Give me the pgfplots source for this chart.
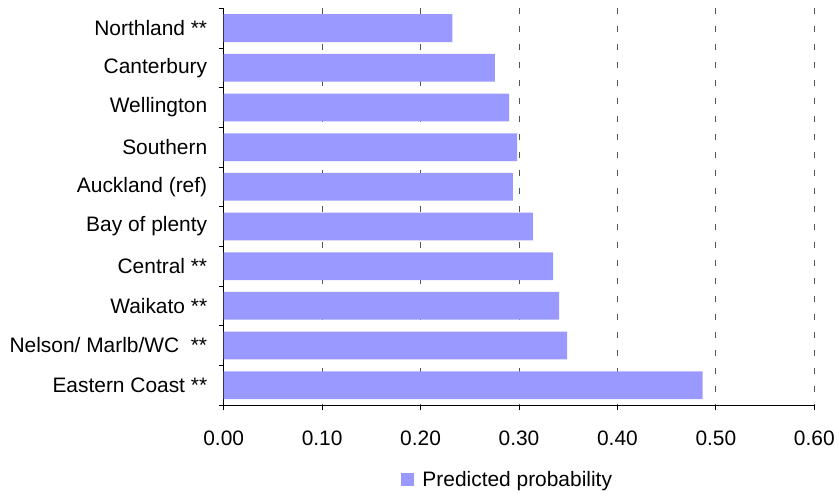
\documentclass[border=0pt]{standalone}
\usepackage{pgfplots}
\pgfplotsset{compat=1.18}
\usepackage{fontspec}
\setmainfont{Liberation Sans}
\definecolor{barcol}{HTML}{9999FF}
\definecolor{gridcol}{HTML}{555555}
\begin{document}
\begin{tikzpicture}[x=1bp,y=1bp]
\useasboundingbox (-223.7bp,-88bp) rectangle (615.3bp,405bp);
\begin{axis}[
  at={(0,0)}, anchor=south west,
  width=590.6bp, height=396.7bp, scale only axis=true,
  xbar, bar width=0.7,
  xmin=0, xmax=0.6,
  ymin=-0.5, ymax=9.5, y dir=reverse,
  axis x line*=bottom, axis y line*=left,
  axis line style={black, line width=0.8bp},
  xtick={0,0.1,...,0.61},
  xticklabel style={/pgf/number format/fixed, /pgf/number format/fixed zerofill, /pgf/number format/precision=2, yshift=-17bp},
  /pgf/number format/assume math mode=true,
  ytick={0,...,9},
  yticklabels={Northland **, Canterbury, Wellington, Southern, Auckland (ref), Bay of plenty, Central **, Waikato **, {Nelson/ Marlb/WC \ **}, Eastern Coast **},
  minor ytick={-0.5,0.5,...,9.6},
  major y tick style={draw=none},
  minor y tick style={black, line width=0.8bp},
  x tick style={black, line width=0.8bp},
  tick align=outside,
  major tick length=5bp, minor tick length=5bp,
  yticklabel style={xshift=-8bp},
  xmajorgrids=true,
  grid style={gridcol, line width=0.9bp, dash pattern=on 6bp off 12bp},
  axis on top=false,
  tick label style={font=\fontsize{21}{25}\selectfont},
  legend style={draw=none, at={(0.301,-0.189)}, anchor=west, inner sep=0pt, outer sep=0pt, font=\fontsize{21}{25}\selectfont, cells={anchor=west}},
  legend image code/.code={\fill[barcol] (0bp,-6.5bp) rectangle (13bp,6.5bp); \path (19bp,0bp);},
]
\addplot[fill=barcol, draw=none] coordinates {
  (0.2323,0) (0.2756,1) (0.2899,2) (0.2980,3) (0.2939,4)
  (0.3142,5) (0.3346,6) (0.3407,7) (0.3488,8) (0.4866,9)
};
\addlegendentry{Predicted probability}
\end{axis}
\end{tikzpicture}
\end{document}
